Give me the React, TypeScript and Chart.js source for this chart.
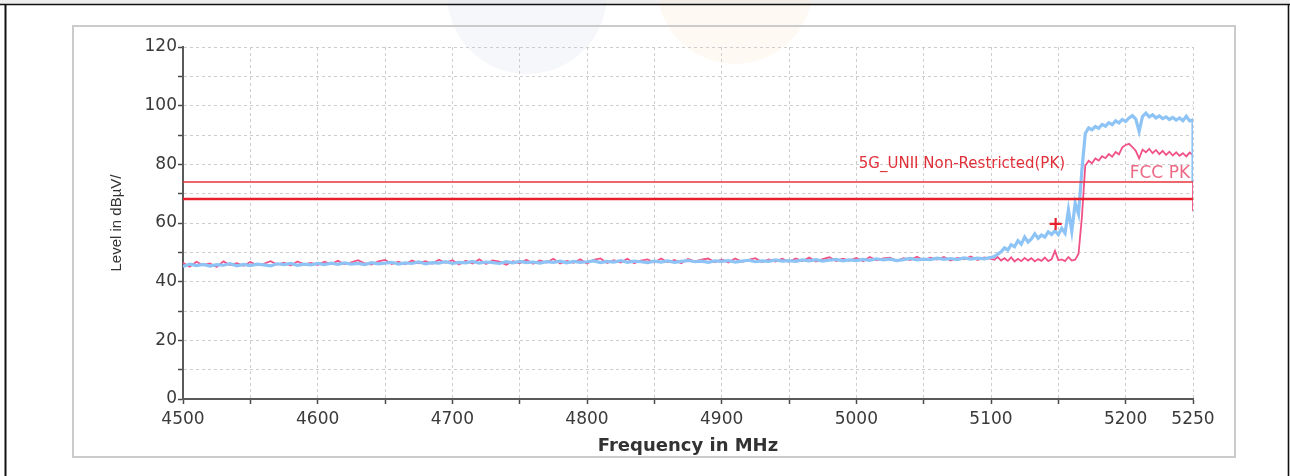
import React, { useEffect, useRef } from "react";
import { Chart, registerables } from "chart.js";

Chart.register(...registerables);

// ---------- data ----------
const steps = (start: number, end: number, step: number) => {
  const out: number[] = [];
  for (let v = start; v <= end + 1e-9; v += step) out.push(Math.round(v * 10) / 10);
  return out;
};
// frequency grid (MHz): 5 MHz steps to 5100, 2.5 MHz steps above
const FREQ: number[] = [...steps(4500, 5100, 5), ...steps(5102.5, 5250, 2.5)];

// Vertical polarisation trace (blue), dBµV/m
const BLUE_LEVEL: number[] = [
  45.2, 46.0, 45.5, 45.9, 45.3, 45.8, 45.6, 46.1, 45.4, 45.9,
  45.5, 46.0, 45.7, 45.4, 46.1, 45.8, 46.2, 45.6, 46.0, 45.7,
  46.2, 45.8, 46.3, 45.9, 46.4, 46.0, 46.2, 45.8, 46.5, 46.1,
  46.3, 46.6, 46.0, 46.4, 46.2, 46.7, 46.1, 46.5, 46.3, 46.8,
  46.2, 46.6, 46.4, 46.9, 46.3, 46.7, 46.5, 46.2, 46.8, 46.4,
  46.9, 46.5, 46.7, 46.3, 46.8, 46.6, 47.0, 46.4, 46.9, 46.6,
  46.8, 47.1, 46.5, 46.9, 46.7, 47.2, 46.6, 47.0, 46.8, 46.5,
  47.0, 46.7, 47.1, 46.6, 46.9, 47.2, 46.8, 47.0, 46.6, 47.1,
  46.9, 47.2, 46.7, 47.0, 47.3, 46.8, 47.1, 46.9, 47.4, 47.0,
  47.2, 46.9, 47.4, 47.1, 47.5, 47.0, 47.3, 47.6, 47.1, 47.4,
  47.2, 47.6, 47.3, 47.8, 47.4, 47.7, 47.2, 47.5, 47.9, 47.4,
  47.7, 47.5, 48.0, 47.6, 47.9, 47.5, 48.1, 47.7, 48.0, 47.8,
  48.3,
  48.6, 49.4, 50.2, 51.5, 50.8, 52.6, 51.9, 54.0, 52.8, 55.2,
  53.5, 54.6, 56.3, 54.8, 55.9, 55.2, 57.0, 56.1, 57.4, 56.0,
  58.2, 56.5, 64.5, 57.2, 66.8, 63.0, 78.0, 90.5, 92.4, 91.8,
  92.9, 92.3, 93.6, 93.0, 94.2, 93.5, 94.8, 94.1, 95.3, 94.6,
  95.8, 96.6, 95.4, 91.2, 96.3, 97.5, 96.2, 96.9, 95.8, 96.5,
  95.6, 96.2, 95.3, 96.0, 95.1, 95.8, 94.9, 96.4, 94.8, 95.2,
];
const BLUE_END_DROP = 74;

// Horizontal polarisation trace (pink), dBµV/m
const PINK_LEVEL: number[] = [
  46.4, 45.1, 46.8, 45.6, 46.2, 45.0, 46.9, 45.7, 46.3, 45.4,
  46.7, 45.6, 46.1, 47.0, 45.8, 46.5, 45.5, 46.9, 45.9, 46.4,
  45.7, 46.8, 46.0, 47.1, 45.9, 46.6, 47.3, 46.2, 45.8, 46.9,
  47.4, 46.0, 46.8, 45.9, 47.2, 46.3, 47.0, 46.1, 47.5, 46.4,
  47.3, 45.9, 47.1, 46.2, 47.6, 46.0, 47.2, 46.8, 45.8, 47.0,
  46.3, 47.5, 46.1, 47.2, 46.5, 47.8, 46.2, 47.1, 46.4, 47.6,
  46.2, 47.4, 47.9, 46.4, 47.3, 46.5, 47.8, 46.3, 47.2, 47.6,
  46.5, 47.9, 46.6, 47.4, 46.3, 47.7, 46.9, 47.5, 47.9, 46.6,
  47.6, 46.5, 47.9, 46.8, 47.4, 48.0, 46.7, 47.6, 46.9, 47.8,
  46.8, 47.9, 47.0, 48.2, 46.9, 47.7, 48.3, 47.0, 47.8, 47.2,
  48.1, 47.0, 48.4, 47.3, 47.9, 48.2, 47.1, 48.0, 47.4, 48.5,
  47.3, 48.2, 47.5, 48.4, 47.2, 48.1, 47.6, 48.6, 47.4, 48.3,
  47.8,
  47.5, 48.4, 47.2, 48.0, 47.1, 48.3, 46.9, 47.8, 47.0, 48.1,
  47.2, 48.0, 46.9, 47.7, 47.1, 48.2, 47.0, 47.6, 50.5, 47.3,
  47.6, 47.0, 48.4, 47.2, 47.5, 49.5, 62.0, 79.5, 81.2, 80.4,
  82.0, 81.3, 82.8, 82.1, 83.5, 82.6, 84.2, 83.4, 85.8, 86.6,
  87.0, 85.9, 84.6, 82.0, 85.0, 84.1, 85.3, 83.8, 84.9, 83.5,
  84.6, 83.2, 84.3, 83.0, 84.1, 82.9, 83.8, 82.7, 84.0, 83.1,
];
const PINK_END_DROP = 64;

// Limit lines (dBµV/m)
const LIMIT_UNII_PK = 74;
const LIMIT_FCC_PK = 68.2;
const LIMIT_SPAN = [4500, 5250];

// Marker
const MARKER_FREQ = 5148;
const MARKER_LEVEL = 59.7;

// Axis ranges / ticks
const X_MIN = 4500;
const X_MAX = 5250;
const X_STEP = 50;
const X_LABELED = [4500, 4600, 4700, 4800, 4900, 5000, 5100, 5200, 5250];
const Y_MIN = 0;
const Y_MAX = 120;
const Y_STEP = 10;
const Y_LABELED = [0, 20, 40, 60, 80, 100, 120];

const TEXT_UNII = "5G_UNII Non-Restricted(PK)";
const TEXT_FCC = "FCC PK";
const X_TITLE = "Frequency in MHz";
const Y_TITLE = "Level in dBµV/";

// ---------- plugins ----------
const framePlugin = {
  id: "frame",
  beforeDraw(chart: any) {
    const { ctx, width, height } = chart;
    ctx.save();
    ctx.fillStyle = "#ffffff";
    ctx.fillRect(0, 0, width, height);
    ctx.fillStyle = "#eeeeee";
    ctx.fillRect(0, 0, width, 4);
    // faint watermark circles
    ctx.fillStyle = "rgba(226,231,241,0.32)";
    ctx.beginPath();
    ctx.arc(527, -6, 80, 0, Math.PI * 2);
    ctx.fill();
    ctx.fillStyle = "rgba(252,236,214,0.32)";
    ctx.beginPath();
    ctx.arc(735, -14, 78, 0, Math.PI * 2);
    ctx.fill();
    // table cell border
    ctx.strokeStyle = "#111111";
    ctx.lineWidth = 1.6;
    ctx.beginPath();
    ctx.moveTo(0, 4.5);
    ctx.lineTo(width, 4.5);
    ctx.stroke();
    ctx.lineWidth = 2;
    ctx.beginPath();
    ctx.moveTo(5.5, 4);
    ctx.lineTo(5.5, height);
    ctx.stroke();
    ctx.lineWidth = 1.6;
    ctx.beginPath();
    ctx.moveTo(1288.5, 4);
    ctx.lineTo(1288.5, height);
    ctx.stroke();
    // inner plot frame
    ctx.strokeStyle = "#cbcbcb";
    ctx.lineWidth = 2;
    ctx.strokeRect(73, 26, 1162, 431);
    ctx.restore();
  },
};

const labelPlugin = {
  id: "limitLabels",
  afterDatasetsDraw(chart: any) {
    const { ctx, chartArea } = chart;
    const xs = chart.scales.x;
    const ys = chart.scales.y;
    ctx.save();
    ctx.beginPath();
    ctx.rect(chartArea.left, chartArea.top - 20, chartArea.right - chartArea.left + 2, chartArea.bottom - chartArea.top + 20);
    ctx.clip();
    ctx.textBaseline = "middle";
    ctx.font = "15px 'DejaVu Sans'";
    ctx.fillStyle = "#e0303a";
    ctx.textAlign = "right";
    ctx.fillText(TEXT_UNII, xs.getPixelForValue(5155), ys.getPixelForValue(80));
    ctx.font = "17px 'DejaVu Sans'";
    ctx.fillStyle = "#ec6a86";
    ctx.textAlign = "left";
    ctx.fillText(TEXT_FCC, xs.getPixelForValue(5203), ys.getPixelForValue(77));
    ctx.restore();
  },
};

export default function App() {
  const canvasRef = useRef<HTMLCanvasElement | null>(null);

  useEffect(() => {
    if (!canvasRef.current) return;
    const blue = FREQ.map((f, i) => ({ x: f, y: BLUE_LEVEL[i] }));
    blue.push({ x: X_MAX, y: BLUE_END_DROP });
    const pink = FREQ.map((f, i) => ({ x: f, y: PINK_LEVEL[i] }));
    pink.push({ x: X_MAX, y: PINK_END_DROP });

    const tickFont = { family: "'DejaVu Sans'", size: 17 };

    const chart = new Chart(canvasRef.current, {
      type: "line",
      data: {
        datasets: [
          {
            label: TEXT_UNII,
            data: LIMIT_SPAN.map((f) => ({ x: f, y: LIMIT_UNII_PK })),
            borderColor: "#e8323c",
            borderWidth: 1.6,
            pointRadius: 0,
            order: 1,
          },
          {
            label: TEXT_FCC,
            data: LIMIT_SPAN.map((f) => ({ x: f, y: LIMIT_FCC_PK })),
            borderColor: "#e8202c",
            borderWidth: 2.6,
            pointRadius: 0,
            order: 1,
          },
          {
            label: "Marker",
            data: [{ x: MARKER_FREQ, y: MARKER_LEVEL }],
            showLine: false,
            pointStyle: "cross",
            pointRadius: 6,
            pointBorderWidth: 2.2,
            borderColor: "#e8202c",
            backgroundColor: "#e8202c",
            order: 0,
          },
          {
            label: "Vertical",
            data: blue,
            borderColor: "rgb(142,196,245)",
            borderWidth: 3.2,
            pointRadius: 0,
            tension: 0,
            order: 2,
          },
          {
            label: "Horizontal",
            data: pink,
            borderColor: "rgb(240,82,136)",
            borderWidth: 1.8,
            pointRadius: 0,
            tension: 0,
            order: 3,
          },
        ],
      },
      options: {
        animation: false,
        responsive: false,
        devicePixelRatio: 1,
        layout: { padding: { left: 104, right: 97, top: 47, bottom: 15 } },
        plugins: {
          legend: { display: false },
          tooltip: { enabled: false },
          title: { display: false },
        },
        scales: {
          x: {
            type: "linear",
            min: X_MIN,
            max: X_MAX,
            afterFit: (s: any) => {
              s.height = 62;
            },
            ticks: {
              stepSize: X_STEP,
              autoSkip: false,
              maxRotation: 0,
              padding: 5,
              color: "#3a3a3a",
              font: tickFont,
              callback: (v: any) => (X_LABELED.includes(Number(v)) ? String(v) : ""),
            },
            grid: {
              color: "#cdcdcd",
              lineWidth: 1,
              tickColor: "#4a4a4a",
              tickWidth: 1.5,
              tickLength: 5,
            },
            border: { display: true, color: "#5a5a5a", width: 2, dash: [3, 3] },
            title: {
              display: true,
              text: X_TITLE,
              color: "#333333",
              font: { family: "'DejaVu Sans'", size: 18, weight: "bold" },
              padding: { top: 4, bottom: 4 },
            },
          },
          y: {
            type: "linear",
            min: Y_MIN,
            max: Y_MAX,
            afterFit: (s: any) => {
              s.width = 79;
            },
            ticks: {
              stepSize: Y_STEP,
              autoSkip: false,
              padding: 1,
              color: "#3a3a3a",
              font: tickFont,
              callback: (v: any) => (Y_LABELED.includes(Number(v)) ? String(v) : ""),
            },
            grid: {
              color: "#cdcdcd",
              lineWidth: 1,
              tickColor: "#4a4a4a",
              tickWidth: 1.5,
              tickLength: 5,
            },
            border: { display: true, color: "#5a5a5a", width: 2, dash: [3, 3] },
            title: {
              display: true,
              text: Y_TITLE,
              color: "#333333",
              font: { family: "'Liberation Sans'", size: 15 },
              padding: { top: 4, bottom: 4 },
            },
          },
        },
      },
      plugins: [framePlugin, labelPlugin],
    } as any);

    return () => chart.destroy();
  }, []);

  return (
    <div style={{ position: "absolute", left: 0, top: 0, width: 1290, height: 476 }}>
      <canvas ref={canvasRef} width={1290} height={476} />
    </div>
  );
}
